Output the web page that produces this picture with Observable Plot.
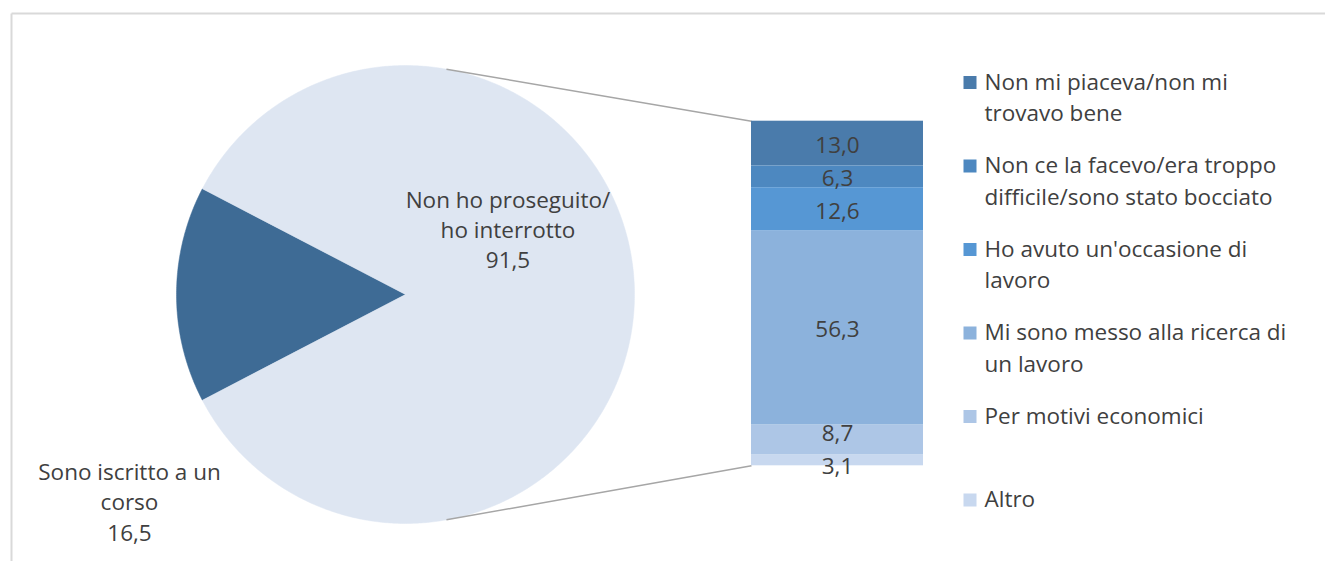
<!DOCTYPE html>
<html><head><meta charset="utf-8">
<script src="https://cdn.jsdelivr.net/npm/d3@7"></script>
<script src="https://cdn.jsdelivr.net/npm/@observablehq/plot@0.6"></script>
<style>html,body{margin:0;padding:0;background:#fff;overflow:hidden}</style>
</head><body><div id="chart"></div>
<script>
// ---- data ----
const pieLabels = ["Sono iscritto a un\ncorso", "Non ho proseguito/\nho interrotto"];
const pieValues = [16.5, 91.5];
const pieColors = ["#3e6b95", "#dee6f2"];

const barLabels = [
  "Non mi piaceva/non mi\ntrovavo bene",
  "Non ce la facevo/era troppo\ndifficile/sono stato bocciato",
  "Ho avuto un'occasione di\nlavoro",
  "Mi sono messo alla ricerca di\nun lavoro",
  "Per motivi economici",
  "Altro"
];
const barValues = [13.0, 6.3, 12.6, 56.3, 8.7, 3.1];
const barColors = ["#4a7bab", "#4d88c0", "#5697d4", "#8cb2dc", "#adc6e6", "#c8d8ef"];

// ---- layout ----
const W = 1325, H = 561;
const FONT = "'Open Sans', Lato, sans-serif";
const FS = 22.5;
const TXT = "#404040";
const cx = 405, cy = 294, R = 229;
const barX0 = 751, barX1 = 923, barTop = 120.7, barPx = 344.6;   // bar height in px for 100%
const PX = barPx / 100;
const u = py => (py - barTop) / PX;               // pixel row -> bar-percent units
const fmt = v => v.toFixed(1).replace(".", ",");
const baseTop = (baseline, lh) => baseline - 0.71 * lh * FS; // lineAnchor top helper

// pie slices
const total = d3.sum(pieValues);
const half = Math.PI * pieValues[0] / total;
const arcs = d3.pie().sort(null).startAngle(-Math.PI / 2 - half).endAngle(1.5 * Math.PI - half)(pieValues);
const slicePts = arcs.map((a, i) => {
  const pts = [{x: cx, y: u(cy)}];
  const n = Math.max(2, Math.ceil((a.endAngle - a.startAngle) / (Math.PI / 360)));
  for (let k = 0; k <= n; k++) {
    const t = a.startAngle + (a.endAngle - a.startAngle) * k / n;
    pts.push({x: cx + R * Math.sin(t), y: u(cy - R * Math.cos(t))});
  }
  pts.push({x: cx, y: u(cy)});
  return pts;
});

// bar segments
const cum = d3.cumsum(barValues);
const barData = barValues.map((v, i) => ({
  label: barLabels[i], value: v, color: barColors[i], mid: cum[i] - v / 2,
  small: v < 5, beforeSmall: i + 1 < barValues.length && barValues[i + 1] < 5
}));

// connectors
const th = 10.3 * Math.PI / 180;
const links = [
  {x1: cx + R * Math.sin(th), y1: u(cy - R * Math.cos(th)), x2: barX0, y2: 0},
  {x1: cx + R * Math.sin(th), y1: u(cy + R * Math.cos(th)), x2: barX0, y2: d3.sum(barValues)}
];

// legend
const legX = 963.5, legSq = 13, legY0 = 82.5, legStep = 83.5;
const legend = barLabels.map((l, i) => ({label: l, color: barColors[i], c: legY0 + i * legStep}));

const barText = (rows, dy) => Plot.text(rows, {x: () => (barX0 + barX1) / 2, y: "mid", text: d => fmt(d.value), fill: TXT, fontSize: FS, dy});

const chart = Plot.plot({
  width: W, height: H,
  margin: 0, marginTop: 0, marginRight: 0, marginBottom: 0, marginLeft: 0,
  x: {domain: [0, W], range: [0, W], axis: null},
  y: {domain: [u(0), u(H)], range: [0, H], axis: null},
  color: {type: "identity"},
  style: {fontFamily: FONT, fontSize: FS + "px", background: "#fff", color: TXT},
  marks: [
    // chart area border
    Plot.link([0], {x1: 11, x2: W, y1: u(13), y2: u(13), stroke: "#d9d9d9", strokeWidth: 2}),
    Plot.link([0], {x1: 11, x2: 11, y1: u(13), y2: u(H), stroke: "#d9d9d9", strokeWidth: 2}),
    // pie
    ...slicePts.map((pts, i) => Plot.line(pts, {x: "x", y: "y", fill: pieColors[i], stroke: pieColors[i], strokeWidth: 0.5, curve: "linear"})),
    // connectors
    Plot.link(links, {x1: "x1", y1: "y1", x2: "x2", y2: "y2", stroke: "#a6a6a6", strokeWidth: 1.5}),
    // bar
    Plot.rectY(barData, {x1: () => barX0, x2: () => barX1, y: "value", fill: "color", insetTop: 0, insetBottom: 0}),
    barText(barData.filter(d => !d.small && !d.beforeSmall), 2),
    barText(barData.filter(d => d.beforeSmall), -6.5),
    barText(barData.filter(d => d.small), 6),
    // pie labels
    Plot.text([0], {x: 507.5, y: u(baseTop(207.3, 30 / FS)), text: () => pieLabels[1] + "\n" + fmt(pieValues[1]), lineAnchor: "top", lineHeight: 30 / FS, fill: TXT, fontSize: FS}),
    Plot.text([0], {x: 129, y: u(baseTop(479.3, 30.5 / FS)), text: () => pieLabels[0] + "\n" + fmt(pieValues[0]), lineAnchor: "top", lineHeight: 30.5 / FS, fill: TXT, fontSize: FS}),
    // legend
    Plot.rect(legend, {x1: () => legX, x2: () => legX + legSq, y1: d => u(d.c - legSq / 2), y2: d => u(d.c + legSq / 2), fill: "color"}),
    Plot.text(legend, {x: () => 984, y: d => u(baseTop(d.c + 6.7, 31.7 / FS)), text: "label", textAnchor: "start", lineAnchor: "top", lineHeight: 31.7 / FS, fill: TXT, fontSize: FS})
  ]
});
document.getElementById("chart").appendChild(chart);
</script>
</body></html>
